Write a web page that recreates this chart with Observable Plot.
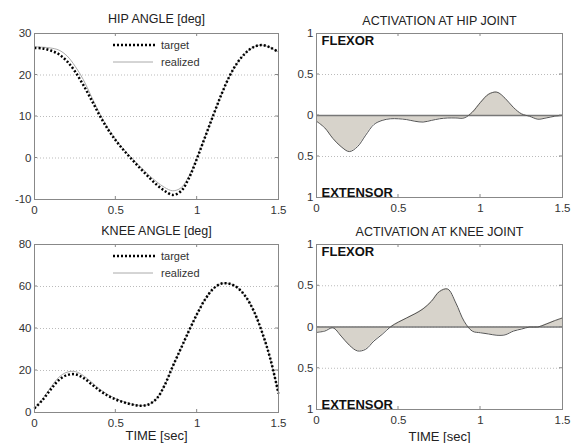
<!DOCTYPE html>
<html><head><meta charset="utf-8">
<script src="https://cdn.jsdelivr.net/npm/d3@7"></script>
<script src="https://cdn.jsdelivr.net/npm/@observablehq/plot@0.6"></script>
<style>
body{margin:0;background:#fff}
#chart{position:relative;width:571px;height:443px;overflow:hidden;background:#fff}
#chart svg{position:absolute;overflow:visible}
</style></head><body><div id="chart"></div>
<script>
const time = [0,0.05,0.1,0.15,0.2,0.25,0.3,0.35,0.4,0.45,0.5,0.55,0.6,0.65,0.7,0.75,0.8,0.85,0.9,0.95,1.0,1.05,1.1,1.15,1.2,1.25,1.3,1.35,1.4,1.45,1.5];
const hipTarget = [26.5,26.4,25.9,25.0,23.3,20.8,17.6,14.0,10.3,7.0,4.2,1.8,-0.4,-2.5,-4.5,-6.4,-7.9,-8.9,-8.0,-4.8,0,5.2,10.4,15.4,19.8,23.1,25.4,26.8,27.2,26.6,25.5];
const hipRealized = [26.8,26.7,26.5,26.0,24.6,22.1,18.9,14.8,10.8,7.3,4.4,2.0,-0.1,-2.1,-4.0,-5.7,-7.1,-7.9,-7.2,-4.3,0.2,5.3,10.4,15.4,19.8,23.1,25.4,26.8,27.2,26.6,25.5];
const kneeTarget = [2,6,11,15.5,17.8,18.2,16.5,13.5,10.5,8,6.2,4.8,3.8,3.2,3.8,6.5,13,22,30.5,39,47,54,59,61.4,61.3,59.3,55,48,38,25.5,9];
const kneeRealized = [2,6.5,12,16.8,19.2,19.5,17.6,14.5,11.2,8.6,6.6,5.1,4.0,3.3,3.8,6.5,13,22,30.5,39,47,54,59,61.4,61.3,59.3,55,48,38,25.5,9];
const hipActivation = [-0.07,-0.15,-0.28,-0.38,-0.44,-0.38,-0.24,-0.11,-0.06,-0.04,-0.04,-0.05,-0.07,-0.08,-0.06,-0.04,-0.03,-0.03,-0.03,0.04,0.16,0.26,0.285,0.21,0.1,0.02,-0.01,-0.045,-0.03,-0.01,0];
const kneeActivation = [-0.065,-0.05,-0.01,-0.11,-0.22,-0.29,-0.27,-0.17,-0.09,0,0.06,0.11,0.16,0.22,0.31,0.43,0.46,0.29,0.07,-0.05,-0.07,-0.085,-0.1,-0.095,-0.05,-0.025,0,0,0.035,0.075,0.11];
const timeTicks = [0,0.5,1,1.5];
const hipTicks = [-10,0,10,20,30];
const kneeTicks = [0,20,40,60,80];
const actTicks = [-1,-0.5,0,0.5,1];
const seriesNames = ["target","realized"];
const titleHip = "HIP ANGLE [deg]";
const titleKnee = "KNEE ANGLE [deg]";
const titleHipAct = "ACTIVATION AT HIP JOINT";
const titleKneeAct = "ACTIVATION AT KNEE JOINT";
const xLabel = "TIME [sec]";
const flexorLabel = "FLEXOR";
const extensorLabel = "EXTENSOR";

const FONT = '"Liberation Sans", Arial, Helvetica, sans-serif';
const DOTS = "2,2";
const rows = (vals) => time.map((t, i) => ({t, v: vals[i]}));

function innerTicks(yTicks) {
  return (index, scales, values, dim) => {
    const g = d3.create("svg:g").attr("stroke", "#888").attr("stroke-width", 1);
    const x = scales.x, y = scales.y;
    const top = dim.marginTop, bottom = dim.height - dim.marginBottom;
    const left = dim.marginLeft, right = dim.width - dim.marginRight;
    for (const t of timeTicks.slice(1, -1)) {
      g.append("line").attr("x1", x(t)).attr("x2", x(t)).attr("y1", top).attr("y2", top + 3);
      g.append("line").attr("x1", x(t)).attr("x2", x(t)).attr("y1", bottom).attr("y2", bottom - 3);
    }
    for (const v of yTicks.slice(1, -1)) {
      g.append("line").attr("y1", y(v)).attr("y2", y(v)).attr("x1", left).attr("x2", left + 3);
      g.append("line").attr("y1", y(v)).attr("y2", y(v)).attr("x1", right).attr("x2", right - 3);
    }
    return g.node();
  };
}

function legend() {
  return (index, scales, values, dim) => {
    const g = d3.create("svg:g").attr("font-family", FONT).attr("font-size", 11).attr("fill", "#333").attr("text-anchor", "start");
    const x0 = dim.marginLeft + 79, x1 = dim.marginLeft + 123, tx = dim.marginLeft + 127;
    const y0 = dim.marginTop + 12, y1 = dim.marginTop + 29;
    g.append("line").attr("x1", x0).attr("x2", x1).attr("y1", y0).attr("y2", y0)
      .attr("stroke", "#000").attr("stroke-width", 2.5).attr("stroke-dasharray", DOTS).attr("stroke-linecap", "butt");
    g.append("text").attr("x", tx).attr("y", y0).attr("dy", "0.35em").text(seriesNames[0]);
    g.append("line").attr("x1", x0).attr("x2", x1 - 4).attr("y1", y1).attr("y2", y1)
      .attr("stroke", "#aaa").attr("stroke-width", 1);
    g.append("text").attr("x", tx).attr("y", y1).attr("dy", "0.35em").text(seriesNames[1]);
    return g.node();
  };
}

function panel({left, top, width, height, mt, mr, mb, ml, yDomain, yTicks, yFormat, title, titleDy, showX, xDy, marks}) {
  const svg = Plot.plot({
    width, height, marginTop: mt, marginRight: mr, marginBottom: mb, marginLeft: ml,
    style: {fontFamily: FONT, fontSize: "11.5px", color: "#333", background: "transparent", overflow: "visible"},
    x: {domain: [0, 1.5]},
    y: {domain: yDomain},
    marks: [
      Plot.gridY(yTicks.filter(v => v !== yDomain[0] && v !== yDomain[1]), {stroke: "#bbb", strokeOpacity: 1, strokeDasharray: "1,2"}),
      ...marks,
      innerTicks(yTicks),
      Plot.frame({stroke: "#888"}),
      Plot.axisX(timeTicks, {tickSize: 0, tickPadding: 6, tickFormat: d => String(d), label: null, fontSize: 11.5, fill: "#333"}),
      Plot.axisY(yTicks, {tickSize: 0, tickPadding: 3, tickFormat: yFormat, label: null, fontSize: 11.5, fill: "#333"}),
      Plot.text([title], {frameAnchor: "top", dy: titleDy, lineAnchor: "middle", fontSize: 12.5, fill: "#222", text: d => d}),
      ...(showX ? [Plot.text([xLabel], {frameAnchor: "bottom", dy: xDy, lineAnchor: "middle", fontSize: 13, fill: "#222", text: d => d})] : [])
    ]
  });
  svg.style.left = left + "px";
  svg.style.top = top + "px";
  document.getElementById("chart").append(svg);
}

function angleMarks(target, realized) {
  return [
    Plot.line(rows(realized), {x: "t", y: "v", stroke: "#aaa", strokeWidth: 1, curve: "catmull-rom"}),
    Plot.line(rows(target), {x: "t", y: "v", stroke: "#000", strokeWidth: 2.5, strokeDasharray: DOTS, strokeLinecap: "butt", curve: "catmull-rom"}),
    legend()
  ];
}

function actMarks(vals) {
  return [
    Plot.areaY(rows(vals), {x: "t", y: "v", fill: "#d7d3cb", curve: "catmull-rom"}),
    Plot.ruleY([0], {stroke: "#777", strokeWidth: 1.6}),
    Plot.lineY(rows(vals), {x: "t", y: "v", stroke: "#555", strokeWidth: 1, curve: "catmull-rom"}),
    Plot.text([flexorLabel], {frameAnchor: "top-left", dx: 5, dy: 2, lineAnchor: "top", fontSize: 13, fontWeight: "bold", fill: "#111", text: d => d}),
    Plot.text([extensorLabel], {frameAnchor: "bottom-left", dx: 5, dy: -1, lineAnchor: "bottom", fontSize: 13, fontWeight: "bold", fill: "#111", text: d => d})
  ];
}

const absFmt = d => String(Math.abs(d));

panel({left: 0, top: 0, width: 290, height: 222, mt: 33, mr: 12, mb: 23, ml: 34,
  yDomain: [-10, 30], yTicks: hipTicks, yFormat: d => String(d), title: titleHip, titleDy: -15,
  showX: false, marks: angleMarks(hipTarget, hipRealized)});
panel({left: 286, top: 0, width: 285, height: 222, mt: 33, mr: 9, mb: 25, ml: 30,
  yDomain: [-1, 1], yTicks: actTicks, yFormat: absFmt, title: titleHipAct, titleDy: -13,
  showX: false, marks: actMarks(hipActivation)});
panel({left: 0, top: 222, width: 290, height: 221, mt: 22, mr: 12, mb: 31, ml: 34,
  yDomain: [0, 80], yTicks: kneeTicks, yFormat: d => String(d), title: titleKnee, titleDy: -14,
  showX: true, xDy: 23, marks: angleMarks(kneeTarget, kneeRealized)});
panel({left: 286, top: 222, width: 285, height: 221, mt: 22, mr: 9, mb: 34, ml: 30,
  yDomain: [-1, 1], yTicks: actTicks, yFormat: absFmt, title: titleKneeAct, titleDy: -13,
  showX: true, xDy: 27, marks: actMarks(kneeActivation)});
</script></body></html>
